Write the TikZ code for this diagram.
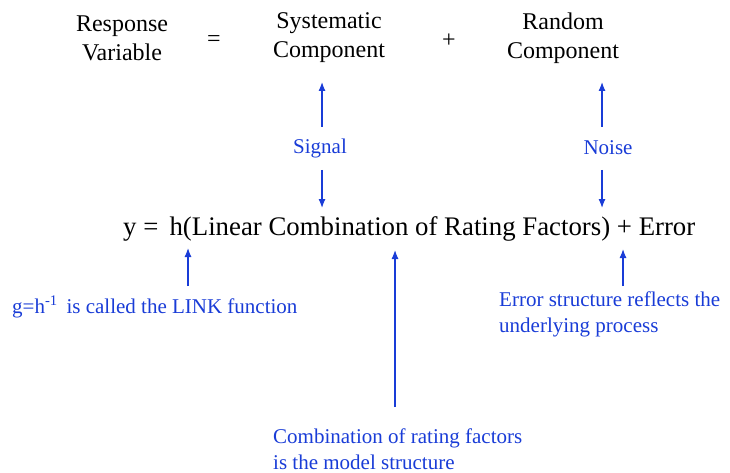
\documentclass[tikz,border=0pt]{standalone}
\usepackage{fontspec}
\setmainfont{Liberation Serif}
\usetikzlibrary{arrows.meta}
\definecolor{lblue}{RGB}{25,60,215}
\begin{document}
\begin{tikzpicture}[x=1pt,y=-1pt,
  toptxt/.style={font=\fontsize{24}{29}\selectfont,align=center,inner sep=0pt},
  eqtxt/.style={font=\fontsize{26.8}{30}\selectfont,inner sep=0pt,anchor=west},
  bluetxt/.style={font=\fontsize{21}{26}\selectfont,text=lblue,inner sep=0pt,align=left},
  arr/.style={draw=lblue,line width=1.2pt,-{Latex[length=9pt,width=7pt]}}]
\useasboundingbox (0,0) rectangle (730,473);
% top equation
\node[toptxt] (resp) at (122,38) {Response\\Variable};
\node[toptxt] (eq1) at (214,41) {=};
\node[toptxt] (sys) at (329,38) {Systematic\\Component};
\node[toptxt] (plus) at (449,41) {+};
\node[toptxt] (rnd) at (563,38) {Random\\Component};
% signal / noise
\node[bluetxt] (signal) at (320,148) {Signal};
\node[bluetxt] (noise) at (608,148) {Noise};
\coordinate (sigtop) at (322,82);
\coordinate (sigbot) at (322,208);
\coordinate (noitop) at (602,82);
\coordinate (noibot) at (602,208);
\draw[arr] (322,127) -- (sigtop);
\draw[arr] (322,170) -- (sigbot);
\draw[arr] (602,127) -- (noitop);
\draw[arr] (602,170) -- (noibot);
% main equation
\node[eqtxt] (main) at (123,229) {y =\, h(Linear Combination of Rating Factors) + Error};
% annotations
\node[bluetxt,anchor=west] (link) at (12,307) {g=h\textsuperscript{-1}\, is called the LINK function};
\node[bluetxt,anchor=west] (errs) at (499,314) {Error structure reflects the\\underlying process};
\node[bluetxt,anchor=west] (comb) at (273,449) {Combination of rating factors\\is the model structure};
\coordinate (htip) at (188,248);
\coordinate (hbot) at (188,286);
\coordinate (etip) at (623,249);
\coordinate (ebot) at (623,286);
\coordinate (ctip) at (395,250);
\coordinate (cbot) at (395,407);
\draw[arr] (hbot) -- (htip);
\draw[arr] (ebot) -- (etip);
\draw[arr] (cbot) -- (ctip);
\end{tikzpicture}
\end{document}
